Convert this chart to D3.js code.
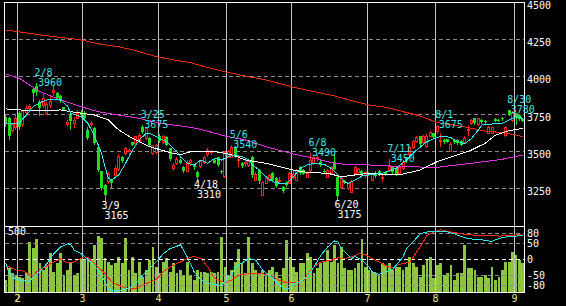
<!DOCTYPE html>
<html>
<head>
<meta charset="utf-8">
<script src="https://cdn.jsdelivr.net/npm/d3@7"></script>
<style>
  body { margin: 0; background: #000; }
  svg { display: block; }
  text { font-family: "DejaVu Sans Mono", monospace; font-size: 10px; }
</style>
</head>
<body>
<div id="chart"></div>
<script>
// trading calendar (2005, Tokyo holidays removed)
const holidays = ["2005-02-11", "2005-03-21", "2005-04-29", "2005-05-03", "2005-05-04", "2005-05-05", "2005-07-18"];

// daily candles [open, high, low, close], one per trading day
const candles = [
  [3730,3745,3670,3680],[3720,3730,3580,3600],[3640,3690,3630,3680],[3665,3740,3650,3720],
  [3760,3770,3650,3665],[3680,3780,3670,3770],[3765,3810,3755,3790],[3790,3815,3770,3805],
  [3915,3930,3840,3890],[3935,3960,3880,3895],[3830,3845,3745,3790],[3810,3890,3800,3855],
  [3760,3830,3750,3820],[3810,3870,3800,3835],[3900,3935,3880,3910],[3890,3895,3850,3855],
  [3870,3875,3830,3835],[3795,3800,3775,3780],[3680,3710,3670,3695],[3745,3750,3650,3700],
  [3690,3730,3660,3710],[3725,3780,3720,3760],[3765,3775,3735,3745],
  [3750,3770,3715,3725],[3640,3660,3585,3590],[3680,3700,3670,3690],[3655,3660,3550,3555],
  [3530,3540,3370,3375],[3365,3370,3250,3255],[3275,3280,3165,3210],[3300,3360,3290,3350],
  [3310,3315,3255,3290],[3340,3400,3335,3390],[3380,3480,3375,3470],[3465,3470,3430,3435],
  [3490,3530,3480,3520],[3500,3525,3475,3510],[3560,3565,3540,3542],[3555,3605,3550,3600],
  [3570,3620,3565,3610],[3660,3675,3620,3630],[3590,3660,3585,3655],[3590,3595,3540,3545],
  [3490,3545,3485,3540],[3495,3550,3490,3540],
  [3600,3615,3560,3570],[3560,3610,3555,3600],[3595,3600,3540,3545],[3520,3525,3440,3450],
  [3390,3420,3375,3410],[3420,3460,3415,3450],[3445,3450,3420,3425],[3395,3400,3360,3365],
  [3370,3440,3365,3430],[3430,3450,3410,3440],[3410,3415,3380,3395],[3360,3370,3310,3325],
  [3400,3445,3395,3435],[3430,3470,3420,3465],[3480,3520,3470,3510],[3495,3510,3480,3500],
  [3440,3450,3420,3425],[3460,3465,3400,3410],[3370,3375,3355,3362],[3335,3500,3330,3495],
  [3470,3510,3460,3500],[3465,3540,3460,3530],[3530,3535,3460,3465],[3440,3470,3400,3450],
  [3425,3430,3395,3400],[3420,3440,3400,3430],[3410,3440,3400,3435],[3465,3470,3330,3340],
  [3310,3360,3305,3350],[3375,3380,3290,3300],[3210,3300,3205,3295],[3290,3325,3285,3320],
  [3310,3345,3300,3340],[3355,3360,3305,3310],[3320,3325,3260,3265],[3300,3330,3290,3310],
  [3260,3270,3225,3235],[3290,3300,3270,3275],[3290,3360,3285,3355],
  [3330,3370,3320,3345],[3310,3380,3305,3375],[3395,3400,3350,3355],[3375,3385,3345,3350],
  [3330,3360,3325,3355],[3375,3490,3370,3440],[3420,3470,3415,3465],[3455,3480,3440,3460],
  [3430,3440,3405,3410],[3370,3380,3360,3365],[3330,3380,3325,3375],[3355,3400,3350,3395],
  [3430,3480,3380,3385],[3330,3335,3175,3200],[3260,3330,3255,3320],[3300,3310,3285,3290],
  [3255,3290,3250,3285],[3230,3305,3225,3300],[3355,3400,3350,3395],[3360,3390,3355,3385],
  [3370,3375,3340,3345],[3340,3365,3330,3360],
  [3350,3360,3340,3345],[3310,3355,3305,3350],[3355,3370,3330,3335],[3370,3375,3340,3345],
  [3320,3345,3300,3330],[3360,3365,3340,3350],[3375,3450,3370,3410],[3400,3405,3350,3360],
  [3390,3395,3340,3350],[3355,3400,3350,3395],[3390,3440,3385,3430],[3460,3465,3430,3440],
  [3480,3535,3475,3530],[3530,3575,3525,3570],[3570,3600,3565,3595],[3600,3605,3545,3550],
  [3560,3610,3555,3600],[3535,3615,3530,3605],[3605,3635,3600,3630],[3620,3625,3590,3595],
  [3635,3675,3625,3670],[3570,3620,3535,3575],[3575,3580,3555,3560],[3580,3585,3560,3565],
  [3505,3560,3500,3550],[3575,3580,3555,3560],[3575,3580,3550,3555],[3570,3575,3540,3545],
  [3560,3600,3555,3590],[3640,3675,3610,3650],[3690,3715,3685,3710],[3720,3725,3685,3690],
  [3680,3725,3675,3720],[3710,3715,3690,3695],[3705,3710,3690,3695],[3625,3670,3620,3665],
  [3625,3665,3620,3660],[3715,3720,3700,3705],[3710,3715,3700,3705],[3725,3730,3710,3715],
  [3610,3670,3605,3665],[3775,3780,3740,3745],[3710,3770,3705,3760],
  [3755,3760,3680,3720],[3745,3750,3710,3715],[3715,3720,3700,3705]
];

// volume (left scale, 500 at the top grid line)
const volumes = [
  105,203,161,147,133,119,161,427,371,447,245,189,231,329,175,245,329,139,189,259,
  147,161,287,273,301,273,399,475,455,287,259,231,245,301,245,461,189,296,161,259,
  133,189,273,385,217,161,259,287,175,245,161,189,147,259,147,105,189,175,175,161,
  175,161,175,469,217,147,189,259,363,245,161,469,245,189,161,189,147,189,217,175,
  119,203,441,
  301,217,175,245,245,329,301,161,203,245,259,357,259,399,245,385,203,189,189,203,
  245,452,217,189,175,161,147,245,231,245,189,217,217,189,217,301,245,217,133,231,
  273,301,119,231,245,147,161,231,105,161,161,399,203,203,189,133,133,147,119,217,
  105,133,189,259,259,343,315,273,245
];

// moving averages, [day index, price]
const maShort = [[0,3688],[3,3683],[4,3692],[6,3743],[8,3799],[10,3826],[12,3844],[16,3844],[18,3804],[19,3755],[21,3740],[22,3732],[24,3688],[26,3598],[28,3487],[29,3397],[30,3319],[31,3308],[33,3342],[35,3420],[37,3509],[39,3576],[41,3621],[42,3621],[45,3587],[47,3565],[48,3542],[50,3498],[51,3464],[53,3420],[55,3409],[57,3442],[59,3420],[61,3453],[63,3442],[65,3464],[67,3476],[69,3464],[71,3442],[72,3409],[74,3375],[76,3330],[78,3297],[80,3286],[82,3286],[84,3330],[86,3386],[88,3409],[90,3420],[93,3413],[95,3386],[97,3342],[99,3297],[100,3286],[103,3319],[104,3335],[106,3342],[110,3353],[114,3386],[117,3442],[120,3509],[123,3565],[126,3594],[128,3603],[130,3591],[132,3565],[134,3549],[136,3587],[138,3643],[139,3676],[142,3683],[145,3688],[147,3710],[149,3732],[151,3721]];
const maMid = [[0,3784],[4,3777],[10,3772],[16,3777],[22,3755],[26,3743],[30,3710],[33,3643],[37,3587],[42,3531],[47,3498],[51,3476],[54,3498],[61,3498],[64,3487],[67,3469],[70,3442],[76,3420],[82,3386],[86,3364],[90,3357],[94,3353],[98,3330],[102,3342],[106,3353],[112,3342],[116,3348],[121,3375],[126,3431],[131,3469],[136,3509],[140,3554],[143,3609],[147,3638],[151,3654]];
const maLong = [[0,4018],[4,3989],[10,3899],[16,3844],[22,3799],[27,3765],[33,3743],[39,3721],[45,3688],[51,3670],[54,3661],[57,3647],[64,3603],[70,3576],[76,3531],[84,3482],[90,3453],[96,3420],[101,3409],[106,3409],[116,3397],[126,3393],[136,3420],[145,3447],[151,3475]];
const maLongest = [[0,4312],[4,4300],[10,4280],[16,4263],[22,4246],[27,4220],[33,4200],[37,4180],[44,4134],[49,4112],[54,4094],[57,4074],[64,4033],[70,4004],[76,3978],[84,3929],[90,3900],[96,3871],[101,3839],[106,3810],[111,3795],[116,3766],[121,3737],[126,3692],[131,3676],[136,3654],[140,3636],[145,3625],[149,3609],[151,3598]];

// oscillators in the lower panel, [day index, value]
const oscFast = [[0,-11],[1,-44],[3,-62],[7,-70],[8,-54],[10,-38],[12,-13],[14,18],[16,39],[18,49],[19,47],[20,29],[22,18],[24,0],[27,-33],[29,-70],[30,-93],[32,-99],[34,-95],[36,-90],[38,-75],[41,-38],[44,-7],[46,18],[48,34],[50,41],[51,47],[53,8],[55,-38],[57,-64],[59,-75],[62,-80],[63,-80],[66,-49],[67,-23],[69,-11],[71,3],[73,-2],[75,-33],[78,-59],[80,-80],[81,-90],[83,-90],[84,-75],[86,-70],[88,-54],[90,-23],[92,13],[94,39],[96,58],[97,55],[98,34],[100,13],[101,3],[102,10],[104,-2],[106,-23],[107,-38],[109,-46],[111,-38],[113,-31],[114,-18],[116,8],[117,34],[119,55],[121,80],[123,86],[125,89],[127,88],[129,86],[131,80],[133,72],[135,65],[137,63],[138,63],[140,60],[142,56],[143,62],[145,68],[147,72],[149,73],[151,75]];
const oscSlow = [[0,-18],[3,-33],[5,-35],[8,-54],[9,-38],[11,-26],[14,-8],[16,3],[18,-11],[20,-8],[23,8],[24,6],[26,-13],[29,-44],[31,-70],[34,-85],[36,-92],[38,-90],[41,-75],[44,-62],[46,-38],[48,-23],[51,-8],[53,3],[55,10],[57,3],[59,-23],[61,-59],[64,-73],[66,-64],[68,-49],[71,-44],[75,-44],[78,-54],[80,-66],[82,-72],[85,-72],[87,-64],[88,-49],[90,-23],[92,-8],[95,-2],[97,5],[99,3],[101,8],[103,18],[105,16],[107,3],[110,-13],[111,-20],[113,-26],[115,-15],[118,-8],[119,8],[121,39],[123,75],[125,86],[127,93],[129,88],[131,84],[133,80],[135,78],[138,75],[142,75],[144,73],[148,75],[150,78],[151,75]];

// peak / trough notes
const highNotes = [["2/8",3960],["3/25",3675],["5/6",3540],["6/8",3490],["7/11",3450],["8/1",3675],["8/30",3780]];
const lowNotes = [["3/9",3165],["4/18",3310],["6/20",3175]];

// axis ticks
const priceTicks = [3250, 3500, 3750, 4000, 4250, 4500];
const oscTicks = [80, 50, 0, -50, -80];

const W = 566, H = 306;
const fmtKey = d3.utcFormat("%Y-%m-%d");
const fmtMD = d3.utcFormat("%-m/%-d");
const tradingDays = d3.utcDays(new Date(Date.UTC(2005, 0, 26)), new Date(Date.UTC(2005, 8, 6)))
  .filter(d => d.getUTCDay() % 6 !== 0 && !holidays.includes(fmtKey(d)));
const n = tradingDays.length;
const idxOf = md => tradingDays.findIndex(d => fmtMD(d) === md);
const monthStarts = d3.range(1, n).filter(i => tradingDays[i].getUTCMonth() !== tradingDays[i - 1].getUTCMonth());

const x = d3.scaleBand().domain(d3.range(n)).range([4, 524.6]).padding(0);
const cx = i => x(i) + x.bandwidth() / 2;
const y = d3.scaleLinear().domain([3000, 4500]).range([226, 2]);
const yVol = d3.scaleLinear().domain([0, 500]).range([292.5, 233]);
const yOsc = d3.scaleLinear().domain([-103, 103]).range([292.5, 226.5]);
const px = v => Math.floor(v) + 0.5;

const svg = d3.select("#chart").append("svg")
    .attr("width", W)
    .attr("height", H)
    .attr("viewBox", [0, 0, W, H]);

svg.append("rect").attr("width", W).attr("height", H).attr("fill", "#000");

const defs = svg.append("defs");
defs.append("clipPath").attr("id", "clipMain")
  .append("rect").attr("x", 4).attr("y", 2).attr("width", 520.5).attr("height", 224.5);
defs.append("clipPath").attr("id", "clipLow")
  .append("rect").attr("x", 4).attr("y", 227).attr("width", 520.5).attr("height", 65.5);

// price grid (dashed)
svg.append("g")
  .selectAll("line")
  .data(priceTicks.filter(t => t < 4500))
  .join("line")
    .attr("x1", 5).attr("x2", 524)
    .attr("y1", d => px(y(d))).attr("y2", d => px(y(d)))
    .attr("stroke", "#8c8c8c")
    .attr("stroke-dasharray", "4,3")
    .attr("shape-rendering", "crispEdges");

// volume bars
svg.append("g")
  .attr("shape-rendering", "crispEdges")
  .selectAll("rect")
  .data(volumes)
  .join("rect")
    .attr("x", (d, i) => x(i) + 0.3)
    .attr("width", x.bandwidth() - 0.6)
    .attr("y", d => yVol(d))
    .attr("height", d => yVol(0) - yVol(d))
    .attr("fill", "#8cc63f");

// lower panel grid
svg.append("g")
  .selectAll("line")
  .data(oscTicks)
  .join("line")
    .attr("x1", 5).attr("x2", 524)
    .attr("y1", d => px(yOsc(d))).attr("y2", d => px(yOsc(d)))
    .attr("stroke", d => d === 0 ? "#ffffff" : "#8c8c8c")
    .attr("stroke-dasharray", "4,3")
    .attr("shape-rendering", "crispEdges");

// month separators
svg.append("g")
  .selectAll("line")
  .data(monthStarts)
  .join("line")
    .attr("x1", d => px(x(d))).attr("x2", d => px(x(d)))
    .attr("y1", 3).attr("y2", 292)
    .attr("stroke", "#c4c4c4")
    .attr("shape-rendering", "crispEdges");

// oscillators
const oscLine = d3.line().x(d => cx(d[0])).y(d => yOsc(d[1]));
const low = svg.append("g").attr("clip-path", "url(#clipLow)");
low.append("path").datum(oscSlow).attr("d", oscLine)
  .attr("fill", "none").attr("stroke", "#ff2a10").attr("shape-rendering", "crispEdges");
low.append("path").datum(oscFast).attr("d", oscLine)
  .attr("fill", "none").attr("stroke", "#30e8e8").attr("shape-rendering", "crispEdges");

// candles
const main = svg.append("g").attr("clip-path", "url(#clipMain)");
const candle = main.append("g")
  .attr("shape-rendering", "crispEdges")
  .selectAll("g")
  .data(candles)
  .join("g");

const isUp = d => d[3] >= d[0];
const left = i => Math.round(cx(i) - 1.5);

candle.append("line")
  .attr("x1", (d, i) => left(i) + 1.5).attr("x2", (d, i) => left(i) + 1.5)
  .attr("y1", d => Math.round(y(d[1]))).attr("y2", d => Math.round(y(d[2])) + 1)
  .attr("stroke", d => isUp(d) ? "#ff2020" : "#20dd20");

candle.filter(d => isUp(d)).append("rect")
  .attr("x", d => left(candles.indexOf(d)) + 0.5)
  .attr("y", d => Math.round(y(d[3])) + 0.5)
  .attr("width", 2)
  .attr("height", d => Math.max(1, Math.round(y(d[0])) - Math.round(y(d[3]))))
  .attr("fill", "#000")
  .attr("stroke", "#ff2020");

candle.filter(d => !isUp(d)).append("rect")
  .attr("x", d => left(candles.indexOf(d)))
  .attr("y", d => Math.round(y(d[0])))
  .attr("width", 3)
  .attr("height", d => Math.max(1, Math.round(y(d[3])) - Math.round(y(d[0]))))
  .attr("fill", "#20dd20");

// moving averages
const maLine = d3.line().x(d => cx(d[0])).y(d => y(d[1]));
[[maLongest, "#f0280c"], [maLong, "#e030e0"], [maMid, "#ffffff"], [maShort, "#30e8e8"]]
  .forEach(([data, color]) => {
    main.append("path").datum(data).attr("d", maLine)
      .attr("fill", "none").attr("stroke", color).attr("shape-rendering", "crispEdges");
  });

// frame
const frame = svg.append("g").attr("stroke", "#fff").attr("shape-rendering", "crispEdges");
frame.append("rect").attr("x", 4.5).attr("y", 2.5).attr("width", 520).attr("height", 290).attr("fill", "none");
frame.append("line").attr("x1", 4.5).attr("x2", 524.5).attr("y1", 226.5).attr("y2", 226.5);

// notes at highs and lows: date on one line, price below it
const hn = svg.append("g").attr("fill", "#40e4e4");
highNotes.forEach(([md, v]) => {
  const i = idxOf(md);
  const t = hn.append("text");
  t.append("tspan").attr("x", cx(i) - 2).attr("y", y(v) - 7).text(md);
  t.append("tspan").attr("x", cx(i) + 1.5).attr("y", y(v) + 3).text(v);
});
const ln = svg.append("g").attr("fill", "#fff");
lowNotes.forEach(([md, v]) => {
  const i = idxOf(md);
  const t = ln.append("text");
  t.append("tspan").attr("x", cx(i) - 3.5).attr("y", y(v) + 8).text(md);
  t.append("tspan").attr("x", cx(i) - 0.5).attr("y", y(v) + 18).text(v);
});

// right axis labels
svg.append("g").attr("fill", "#fff")
  .selectAll("text")
  .data(priceTicks)
  .join("text")
    .attr("x", 527)
    .attr("y", d => Math.floor(y(d)) + 6.5)
    .text(d => d);

svg.append("g").attr("fill", "#fff")
  .selectAll("text")
  .data(oscTicks)
  .join("text")
    .attr("x", 527)
    .attr("y", d => Math.floor(yOsc(d)) + 4)
    .text(d => d);

svg.append("text").attr("x", 8).attr("y", 235).attr("fill", "#fff").text("500");

// month labels
svg.append("g").attr("fill", "#e8e890").attr("text-anchor", "middle")
  .selectAll("text")
  .data([4].concat(monthStarts))
  .join("text")
    .attr("x", d => px(x(d)))
    .attr("y", 302)
    .text(d => tradingDays[d].getUTCMonth() + 1);
</script>
</body>
</html>
